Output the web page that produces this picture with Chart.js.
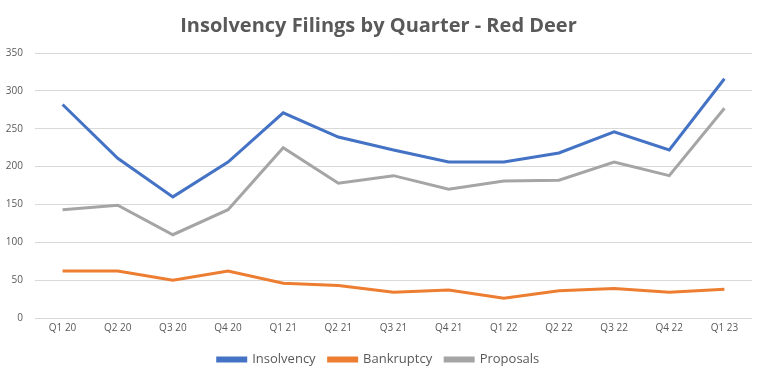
<!DOCTYPE html>
<html><head><meta charset="utf-8">
<script src="https://cdn.jsdelivr.net/npm/chart.js@4"></script>
<style>html,body{margin:0;padding:0;background:#fff}#wrap{width:764px;height:380px}</style>
</head><body><div id="wrap"><canvas id="c" width="764" height="380"></canvas></div>
<script>
const categories = ["Q1 20","Q2 20","Q3 20","Q4 20","Q1 21","Q2 21","Q3 21","Q4 21","Q1 22","Q2 22","Q3 22","Q4 22","Q1 23"];
const insolvency = [282, 211, 160, 206, 271, 239, 222, 206, 206, 218, 246, 222, 316];
const bankruptcy = [62, 62, 50, 62, 46, 43, 34, 37, 26, 36, 39, 34, 38];
const proposals = [143, 149, 110, 143, 225, 178, 188, 170, 181, 182, 206, 188, 277];
const yTicks = [0, 50, 100, 150, 200, 250, 300, 350];

const txt = '#595959';
new Chart(document.getElementById('c'), {
  type: 'line',
  data: {
    labels: categories,
    datasets: [
      {label:'Insolvency', data: insolvency, borderColor:'#4472c4', backgroundColor:'#4472c4'},
      {label:'Bankruptcy', data: bankruptcy, borderColor:'#ed7d31', backgroundColor:'#ed7d31'},
      {label:'Proposals', data: proposals, borderColor:'#a5a5a5', backgroundColor:'#a5a5a5'}
    ]
  },
  options: {
    responsive:false, animation:false,
    elements:{line:{borderWidth:3, tension:0}, point:{radius:0}},
    layout:{padding:{left:5, right:12, top:4, bottom:4}},
    plugins:{
      title:{display:true, text:'Insolvency Filings by Quarter - Red Deer', color:txt,
        font:{family:'Open Sans', size:20, weight:'bold'}, padding:{top:10, bottom:15}},
      legend:{position:'bottom', labels:{color:txt, font:{family:'Open Sans', size:13},
        boxWidth:28, boxHeight:3, padding:13}},
      tooltip:{enabled:false}
    },
    scales:{
      x:{offset:true, grid:{display:false, drawTicks:false}, border:{display:false},
        afterFit: ax => { ax.height = 22; },
        ticks:{color:txt, font:{family:'Open Sans', size:10, lineHeight:1}, maxRotation:0, padding:5}},
      y:{min:0, max:350, border:{display:false}, grid:{color:'#d9d9d9', drawTicks:false},
        afterFit: ax => { ax.width = 30; },
        afterBuildTicks: ax => { ax.ticks = yTicks.map(v => ({value:v})); },
        ticks:{color:txt, font:{family:'Open Sans', size:10}, padding:12}}
    }
  }
});
</script></body></html>
